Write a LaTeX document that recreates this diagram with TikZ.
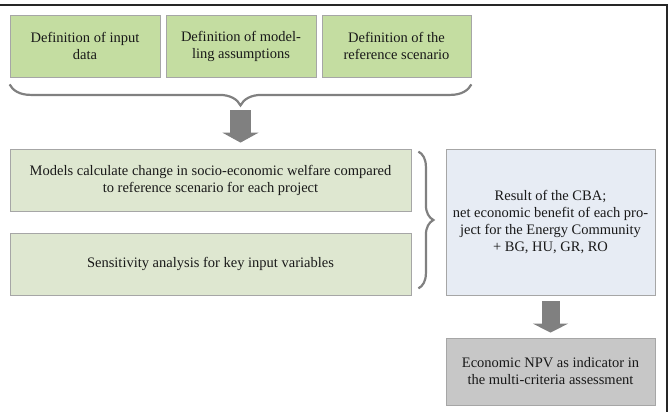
\documentclass[tikz,border=0pt]{standalone}
\usepackage{fontspec}
\setmainfont{Liberation Serif}
\usepackage{xcolor}
\usetikzlibrary{calc,arrows.meta,decorations.pathreplacing}

\definecolor{stepgreen}{HTML}{C4DDA1}
\definecolor{palegreen}{HTML}{DEE7D0}
\definecolor{paleblue}{HTML}{E7ECF4}
\definecolor{npvgray}{HTML}{C7C7C7}
\definecolor{bordergray}{HTML}{A6A6A6}
\definecolor{arrowgray}{HTML}{808080}

\begin{document}
\begin{tikzpicture}[x=1pt,y=-1pt,
    box/.style={draw=bordergray, line width=0.8pt, align=center, text=black!90,
      font=\fontsize{14.5}{17}\selectfont, inner sep=0pt},
    curly/.style={draw=arrowgray, line width=2.2pt, decorate, decoration={brace, amplitude=#1}}]
            \useasboundingbox (0,0) rectangle (672,412);
            \draw[black!85, line width=2pt] (0,5) -- (667,5) -- (667,412);

            \node[box, fill=stepgreen, minimum width=150pt, minimum height=62pt] (input) at (85,46) {Definition of input\\data};
            \node[box, fill=stepgreen, minimum width=150pt, minimum height=62pt] (assump) at (241,46) {Definition of model-\\ling assumptions};
            \node[box, fill=stepgreen, minimum width=149pt, minimum height=62pt] (scenario) at (396.5,46) {Definition of the\\reference scenario};

            \node[box, fill=palegreen, minimum width=401pt, minimum height=62pt] (models) at (210.5,180) {Models calculate change in socio-economic welfare compared\\to reference scenario for each project};
            \node[box, fill=palegreen, minimum width=401pt, minimum height=62pt] (sens) at (210.5,264) {Sensitivity analysis for key input variables};

            \node[box, fill=paleblue, minimum width=209pt, minimum height=146pt] (result) at (550.5,222) {Result of the CBA;\\net economic benefit of each pro-\\ject for the Energy Community\\+ BG, HU, GR, RO};
            \node[box, fill=npvgray, minimum width=209pt, minimum height=67pt] (npv) at (550.5,371.5) {Economic NPV as indicator in\\the multi-criteria assessment};

            \draw[curly=21pt] ($(scenario.south east)+(0,7)$) -- ($(input.south west)+(0,7)$);
            \coordinate (bracetip) at ($(input.south west)!0.5!(scenario.south east)+(0,28)$);
            \draw[arrowgray, line width=21pt, -{Triangle[width=36pt,length=10pt]}, shorten <=5pt, shorten >=6pt] (bracetip) -- (bracetip |- models.north);

            \draw[curly=15pt] ($(models.north east)+(7,3)$) -- ($(sens.south east)+(7,-7)$);

            \draw[arrowgray, line width=18pt, -{Triangle[width=35pt,length=9pt]}, shorten <=6pt, shorten >=5pt] (result.south) -- (npv.north);
        \end{tikzpicture}
\end{document}
